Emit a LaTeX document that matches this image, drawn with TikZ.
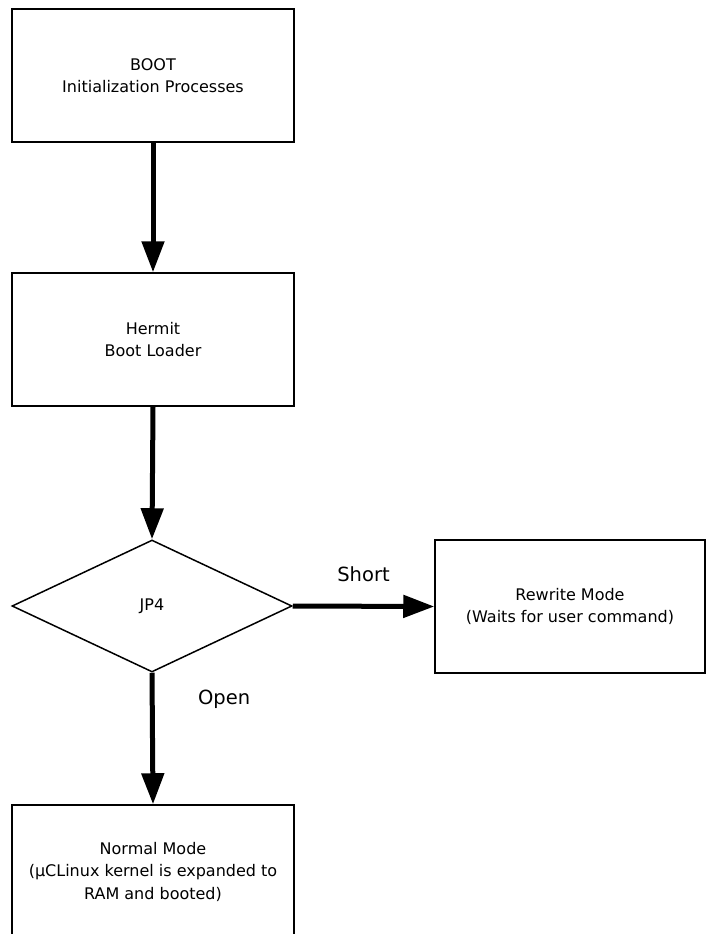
\documentclass[tikz,border=0pt]{standalone}
\usepackage{fontspec}
\setmainfont{DejaVu Sans}
\usetikzlibrary{arrows.meta,shapes.geometric}

\begin{document}
\begin{tikzpicture}[x=1pt, y=-1pt,
                    box/.style={draw, line width=1.5pt, rectangle,
                    minimum width=282pt, minimum height=133pt,
                    align=center, font=\fontsize{16}{22.5}\selectfont},
                    decision/.style={draw, line width=1.5pt, diamond,
                    inner sep=0pt, minimum width=280pt, minimum height=132pt,
                    font=\fontsize{16}{22.5}\selectfont},
                    flow/.style={line width=5pt,
                    -{Triangle[width=22pt,length=31pt]}},
                    lbl/.style={font=\fontsize{19.5}{24}\selectfont}]
    \useasboundingbox (0,0) rectangle (709,934);
    \node[box](boot) at (153,75.5) {BOOT\\Initialization Processes};
    \node[box](hermit) at (153,339.5) {Hermit\\Boot Loader};
    \node[decision](jp4) at (152,606) {JP4};
    \node[box, minimum width=270pt](rewrite) at (570,606.5)
        {Rewrite Mode\\(Waits for user command)};
    \node[box](normal) at (153,871.5)
        {Normal Mode\\(µCLinux kernel is expanded to\\RAM and booted)};
    \draw[flow] (boot.south) -- (hermit.north);
    \draw[flow] (hermit.south) -- (jp4.north);
    \draw[flow] (jp4.east) -- (rewrite.west)
        node[lbl, midway, above=19pt] (short) {Short};
    \draw[flow] (jp4.south) -- (normal.north)
        node[lbl, pos=0.2, right=40pt] (open) {Open};
\end{tikzpicture}
\end{document}
